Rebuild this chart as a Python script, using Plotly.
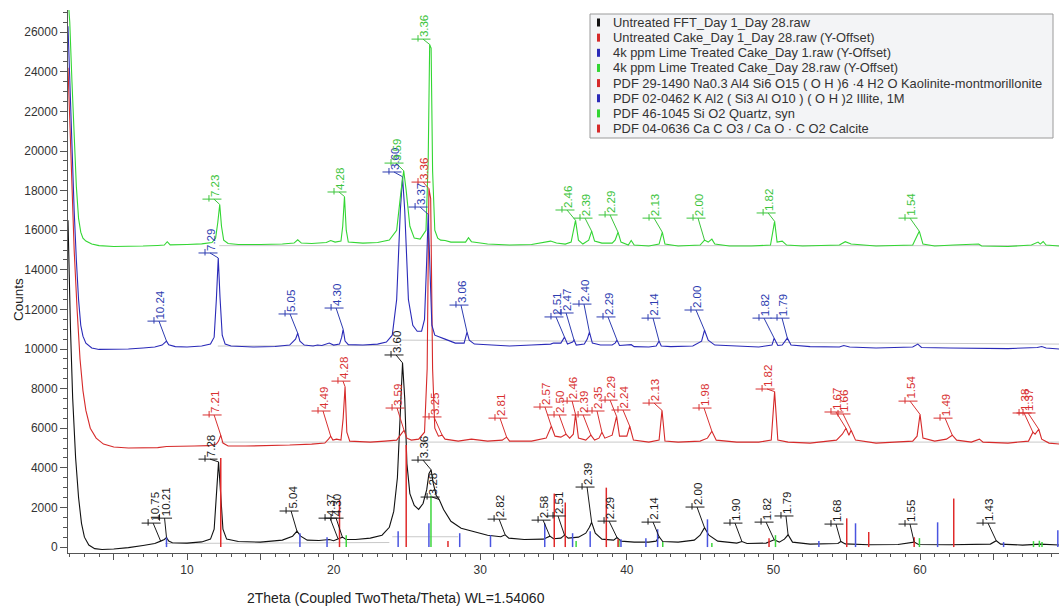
import numpy as np
import plotly.graph_objects as go

FONT = "Arial, Liberation Sans, sans-serif"

# ---------------- data (2Theta in degrees, counts) ----------------
BLACK_X = [1.88, 1.95, 2.05, 2.2, 2.4, 2.6, 2.8, 3.0, 3.3, 3.7, 4.2, 5.0, 6.0, 7.0, 7.8, 8.2, 8.45, 8.6, 8.75, 9.0,
           10.0, 11.0, 11.6, 11.85, 12.0, 12.15, 12.3, 12.45, 12.7, 13.5, 15.0, 16.5, 17.2, 17.5, 17.75, 18.2, 19.0,
           19.7, 20.0, 20.3, 20.6, 20.85, 21.5, 22.5, 23.3, 23.8, 24.1, 24.35, 24.55, 24.7, 24.85, 25.0, 25.2, 25.5,
           25.8, 26.1, 26.35, 26.5, 26.65, 26.8, 27.0, 27.2, 27.5, 28.0, 28.7, 29.4, 30.5, 31.4, 31.7, 31.95, 33.0,
           34.3, 34.75, 35.0, 35.5, 35.75, 36.0, 36.7, 37.2, 37.45, 37.6, 37.85, 38.3, 39.1, 39.33, 39.6, 40.5, 41.5,
           42.0, 42.2, 42.45, 43.5, 44.6, 45.0, 45.3, 45.6, 46.2, 47.5, 47.85, 48.2, 49.5, 50.05, 50.4, 50.75, 51.0,
           51.3, 52.5, 54.4, 54.6, 54.9, 56.5, 58.5, 59.6, 59.9, 62.0, 64.8, 65.2, 65.5, 67.0, 68.2, 69.5]
BLACK_Y = [16500, 14000, 11000, 7500, 4500, 2500, 1200, 500, 100, -80, -120, -100, -30, 80, 180, 300, 380, 480, 300, 220,
           200, 260, 400, 900, 2800, 4300, 2600, 900, 400, 280, 250, 350, 550, 800, 550, 350, 330,
           380, 320, 420, 500, 380, 380, 450, 600, 1000, 1800, 3500, 6500, 9300, 7500, 4200, 2700, 2100,
           1900, 2200, 2900, 3700, 3900, 3200, 2600, 2400, 1900, 1300, 950, 800, 600, 520, 620, 450, 380,
           400, 550, 420, 450, 600, 450, 500, 700, 1000, 1250, 700, 400, 350, 480, 300, 250, 250,
           300, 520, 280, 250, 350, 600, 980, 600, 300, 200, 280, 180, 200, 370, 250, 400, 620,
           250, 150, 180, 280, 160, 120, 130, 250, 130, 120, 150, 320, 150, 100, 150, 100]

RED_X = [1.88, 2.0, 2.15, 2.3, 2.5, 2.7, 2.9, 3.1, 3.4, 3.8, 4.3, 5.0, 6.0, 7.0, 8.0, 8.6, 9.5, 10.5, 11.5, 12.0, 12.15,
         12.3, 12.45, 12.8, 14.0, 15.5, 17.0, 18.5, 19.4, 19.65, 19.8, 19.95, 20.2, 20.5, 20.65, 20.78, 20.9, 21.1,
         22.5, 23.5, 24.3, 24.6, 24.8, 25.0, 25.3, 25.8, 26.2, 26.38, 26.5, 26.62, 26.75, 26.9, 27.15, 27.4, 27.6,
         28.5, 29.4, 30.5, 31.5, 31.8, 32.0, 33.5, 34.5, 34.85, 35.1, 35.5, 35.85, 36.1, 36.35, 36.5, 36.7, 37.2,
         37.55, 37.8, 38.1, 38.3, 38.5, 39.0, 39.3, 39.5, 40.0, 40.2, 40.45, 41.5, 42.2, 42.4, 42.6, 43.5, 45.0,
         45.5, 45.8, 46.1, 47.5, 49.0, 49.85, 50.08, 50.3, 51.0, 52.5, 54.3, 54.7, 54.95, 55.15, 55.3, 55.6, 57.0,
         59.5, 59.8, 60.0, 60.2, 61.0, 61.8, 62.2, 62.5, 63.5, 64.05, 64.3, 66.0, 67.4, 67.7, 67.85, 68.1, 68.3,
         68.8, 69.5]
RED_Y = [24200, 21500, 18000, 15000, 12000, 9500, 7900, 6900, 6000, 5500, 5200, 5050, 5000, 5000, 5020, 5080, 5080, 5100,
         5120, 5200, 5350, 5650, 5250, 5100, 5100, 5120, 5150, 5200, 5250, 5450, 5600, 5400, 5450, 5400, 6500, 8100,
         5800, 5350, 5300, 5350, 5400, 5700, 5900, 5500, 5400, 5450, 5800, 9000, 18100, 17600, 9000, 6000, 5600,
         5650, 5450, 5350, 5450, 5350, 5400, 5550, 5350, 5350, 5500, 6100, 5600, 5550, 5700, 5500, 5700, 6700,
         5500, 5400, 5650, 5400, 5500, 5800, 5500, 5650, 6600, 5600, 5600, 6100, 5400, 5300, 5400, 6900, 5350,
         5300, 5350, 5500, 5850, 5400, 5300, 5300, 5400, 7850, 5400, 5300, 5250, 5400, 5700, 6000, 5650, 5900,
         5400, 5250, 5350, 5600, 6700, 5500, 5350, 5450, 5650, 5400, 5300, 5450, 5300, 5250, 5350, 5800, 5700,
         5950, 5450, 5250, 5200]

BLUE_X = [1.88, 2.0, 2.15, 2.3, 2.45, 2.6, 2.75, 2.9, 3.1, 3.5, 4.0, 5.0, 6.0, 7.0, 7.8, 8.3, 8.5, 8.6, 8.75, 9.2,
          10.0, 11.0, 11.6, 11.85, 12.0, 12.13, 12.25, 12.4, 12.6, 13.0, 14.5, 16.0, 17.0, 17.4, 17.55, 17.7, 18.0,
          18.6, 18.9, 19.2, 19.7, 20.0, 20.4, 20.55, 20.65, 20.78, 21.0, 22.0, 23.0, 23.6, 24.0, 24.3, 24.55, 24.7,
          24.85, 25.1, 25.4, 25.7, 26.0, 26.2, 26.35, 26.45, 26.55, 26.7, 26.9, 27.3, 27.6, 28.3, 28.9, 29.1, 29.25,
          29.6, 30.5, 32.0, 33.5, 34.8, 35.0, 35.5, 35.75, 35.95, 36.3, 36.4, 36.55, 37.1, 37.3, 37.45, 37.65, 38.2,
          39.0, 39.2, 39.33, 39.5, 40.3, 40.5, 41.5, 42.0, 42.2, 42.35, 43.0, 44.5, 45.1, 45.3, 45.55, 46.0, 47.5,
          49.0, 49.9, 50.05, 50.3, 50.6, 50.95, 51.2, 52.5, 54.5, 54.8, 55.2, 57.0, 59.5, 59.85, 60.1, 62.0, 63.5,
          66.0, 68.0, 68.3, 68.6, 69.5]
BLUE_Y = [26300, 23500, 20000, 17000, 14500, 12500, 11200, 10650, 10300, 10050, 9980, 9980, 10000, 10050, 10100, 10200,
          10350, 10400, 10220, 10120, 10100, 10150, 10250, 10600, 12500, 14600, 12600, 10700, 10250, 10150, 10100,
          10130, 10200, 10500, 10800, 10400, 10200, 10150, 10200, 10180, 10300, 10200, 10250, 10600, 11000, 10400,
          10220, 10200, 10250, 10350, 10700, 12500, 17000, 18700, 17000, 12500, 11200, 10900, 10900, 11500, 14500,
          16800, 14500, 11200, 10700, 10600, 10500, 10300, 10300, 10850, 10450, 10250, 10200, 10150, 10200, 10250,
          10300, 10300, 10600, 10250, 10350, 10450, 10200, 10250, 10500, 10850, 10300, 10200, 10200, 10300, 10450,
          10180, 10220, 10120, 10100, 10150, 10400, 10150, 10120, 10150, 10400, 10950, 10450, 10200, 10150, 10100,
          10200, 10550, 10180, 10200, 10550, 10200, 10120, 10100, 10180, 10100, 10050, 10100, 10250, 10080, 10050,
          10050, 10020, 10080, 10130, 10050, 10000]

GREEN_X = [1.9, 2.0, 2.15, 2.3, 2.45, 2.6, 2.75, 2.9, 3.1, 3.5, 4.0, 5.0, 6.0, 7.0, 8.0, 8.45, 8.65, 8.85, 10.0, 11.0,
           11.7, 11.95, 12.1, 12.23, 12.35, 12.5, 12.8, 13.5, 15.0, 16.5, 17.3, 17.55, 17.8, 18.5, 19.5, 19.8, 20.1,
           20.5, 20.62, 20.74, 20.86, 21.0, 22.0, 23.0, 23.8, 24.3, 24.6, 24.78, 24.95, 25.2, 25.5, 25.9, 26.3, 26.45,
           26.55, 26.65, 26.75, 26.9, 27.1, 27.3, 27.6, 28.0, 29.0, 29.2, 29.4, 30.5, 32.0, 33.5, 34.8, 35.2, 35.8,
           36.2, 36.5, 36.7, 37.0, 37.4, 37.6, 37.8, 38.3, 39.0, 39.2, 39.4, 39.6, 40.1, 40.3, 40.5, 41.5, 42.2,
           42.42, 42.6, 43.5, 45.0, 45.3, 45.55, 45.8, 46.0, 47.0, 48.5, 49.8, 50.08, 50.25, 50.6, 50.9, 52.0, 54.5,
           54.9, 55.3, 57.0, 59.5, 59.95, 60.2, 61.0, 62.3, 64.0, 64.2, 66.0, 67.6, 68.05, 68.2, 68.4, 68.6, 69.5]
GREEN_Y = [27600, 26500, 23500, 20500, 18200, 16600, 15900, 15600, 15450, 15300, 15220, 15180, 15180, 15200, 15230,
           15250, 15420, 15260, 15280, 15310, 15380, 15600, 16400, 17300, 16200, 15500, 15330, 15280, 15280, 15300,
           15350, 15520, 15350, 15330, 15380, 15480, 15400, 15450, 16200, 17700, 16000, 15400, 15350, 15380, 15500,
           16000, 18000, 19000, 18000, 16200, 15600, 15550, 16000, 19500, 25350, 25200, 19000, 16000, 15600, 15500,
           15480, 15400, 15400, 15620, 15420, 15300, 15250, 15280, 15450, 15350, 15300, 15400, 16500, 15500, 15300,
           15500, 15950, 15450, 15350, 15350, 15500, 15900, 15400, 15250, 15480, 15250, 15200, 15300, 15900, 15300,
           15200, 15250, 15500, 15400, 15550, 15300, 15200, 15200, 15250, 16450, 15400, 15450, 15250, 15200, 15250,
           15420, 15300, 15200, 15250, 15950, 15300, 15200, 15250, 15300, 15200, 15180, 15250, 15400, 15300, 15430,
           15250, 15200]

# peak labels: (d-spacing text, label bar centre 2Theta, label bar height, peak 2Theta)
BLACK_LABELS = [("10.75", 7.55, 1210, 8.2), ("10.21", 8.33, 1460, 8.6), ("7.28", 11.43, 4440, 12.15),
                ("5.04", 16.96, 1820, 17.5), ("4.37", 19.62, 1460, 20.3), ("4.30", 20.03, 1460, 20.6),
                ("3.60", 24.12, 9700, 24.7), ("3.36", 25.96, 4390, 26.65), ("3.28", 26.58, 2525, 27.2),
                ("2.82", 31.15, 1410, 31.7), ("2.58", 34.15, 1360, 34.75), ("2.51", 35.17, 1570, 35.75),
                ("2.39", 37.15, 3030, 37.6), ("2.29", 38.65, 1310, 39.33), ("2.14", 41.65, 1260, 42.2),
                ("2.00", 44.65, 2020, 45.3), ("1.90", 47.24, 1210, 47.85), ("1.82", 49.36, 1260, 50.05),
                ("1.79", 50.72, 1570, 51.0), ("1.68", 54.13, 1160, 54.6), ("1.55", 59.18, 1160, 59.6),
                ("1.43", 64.5, 1210, 65.2)]
RED_LABELS = [("7.21", 11.71, 6670, 12.3), ("4.49", 19.14, 6870, 19.8), ("4.28", 20.5, 8380, 20.78),
              ("3.59", 24.19, 7020, 24.8), ("3.36", 25.96, 18430, 26.5), ("3.25", 26.71, 6570, 27.4),
              ("2.81", 31.21, 6510, 31.8), ("2.57", 34.28, 7070, 34.85), ("2.50", 35.24, 6670, 35.85),
              ("2.46", 36.13, 7370, 36.5), ("2.39", 36.88, 6670, 37.55), ("2.35", 37.83, 6870, 38.3),
              ("2.29", 38.72, 7420, 39.3), ("2.24", 39.6, 6920, 40.2), ("2.13", 41.72, 7270, 42.4),
              ("1.98", 45.13, 7020, 45.8), ("1.82", 49.43, 7980, 50.08), ("1.67", 54.13, 6820, 54.95),
              ("1.66", 54.61, 6720, 55.3), ("1.54", 59.18, 7370, 60.0), ("1.49", 61.57, 6510, 62.2),
              ("1.38", 66.96, 6770, 67.7), ("1.37", 67.23, 6770, 68.1)]
BLUE_LABELS = [("10.24", 7.95, 11410, 8.6), ("7.29", 11.43, 14850, 12.13), ("5.05", 16.89, 11770, 17.55),
               ("4.30", 20.03, 12070, 20.65), ("3.60", 23.98, 18940, 24.7), ("3.37", 25.76, 17170, 26.45),
               ("3.06", 28.55, 12220, 29.1), ("2.51", 35.03, 11620, 35.75), ("2.47", 35.72, 11820, 36.4),
               ("2.40", 36.94, 12270, 37.45), ("2.29", 38.58, 11620, 39.33), ("2.14", 41.65, 11560, 42.2),
               ("2.00", 44.58, 11970, 45.3), ("1.82", 49.22, 11560, 50.05), ("1.79", 50.45, 11560, 50.95)]
GREEN_LABELS = [("7.23", 11.7, 17570, 12.23), ("4.28", 20.23, 17930, 20.74), ("3.59", 24.12, 19390, 24.78),
                ("3.36", 25.96, 25650, 26.6), ("2.46", 35.78, 17020, 36.5), ("2.39", 37.01, 16610, 37.6),
                ("2.29", 38.72, 16770, 39.4), ("2.13", 41.72, 16610, 42.42), ("2.00", 44.72, 16610, 45.3),
                ("1.82", 49.5, 16870, 50.08), ("1.54", 59.18, 16610, 59.95)]

# reference patterns (stick positions and heights)
KAOL_X = [12.3, 20.4, 24.95, 35.05, 35.8, 38.6, 55.0, 62.3]
KAOL_H = [4500, 2400, 5150, 2700, 2250, 3000, 1450, 2450]
ILLITE_X = [8.6, 17.7, 19.55, 24.4, 26.5, 28.6, 30.7, 34.4, 36.3, 37.5, 39.6, 41.3, 42.1, 45.5, 53.1, 55.6, 61.2,
            65.7, 69.4]
ILLITE_H = [500, 700, 500, 800, 1200, 700, 600, 1200, 700, 800, 400, 450, 900, 1400, 300, 1200, 1250, 250, 850]
QUARTZ_X = [20.86, 26.64, 36.54, 39.46, 42.45, 45.8, 50.14, 59.96, 67.74, 68.14, 68.32]
QUARTZ_H = [600, 2600, 300, 350, 250, 200, 600, 450, 300, 320, 250]
CALCITE_X = [27.8, 39.4, 49.7, 56.5, 59.6]
CALCITE_H = [300, 400, 450, 760, 500]

LEGEND_ITEMS = [("Untreated FFT_Day 1_Day 28.raw", "#111111"),
                ("Untreated Cake_Day 1_Day 28.raw (Y-Offset)", "#d62a2a"),
                ("4k ppm Lime Treated Cake_Day 1.raw (Y-Offset)", "#2a2ab8"),
                ("4k ppm Lime Treated Cake_Day 28.raw (Y-Offset)", "#33d633"),
                ("PDF 29-1490 Na0.3 Al4 Si6 O15 ( O H )6 ·4 H2 O Kaolinite-montmorillonite", "#d62a2a"),
                ("PDF 02-0462 K Al2 ( Si3 Al O10 ) ( O H )2 Illite, 1M", "#2a2ab8"),
                ("PDF 46-1045 Si O2 Quartz, syn", "#33d633"),
                ("PDF 04-0636 Ca C O3 / Ca O · C O2 Calcite", "#d62a2a")]

X_TICKS = [5, 10, 15, 20, 25, 30, 35, 40, 45, 50, 55, 60, 65]
X_TICKTEXT = ["", "10", "", "20", "", "30", "", "40", "", "50", "", "60", ""]
Y_TICKS = list(range(0, 26001, 2000))

# ---------------- layout geometry ----------------
W, H = 1059, 609
ML, MR, MT, MB = 68, 0, 10, 56
XR = [1.88, 69.48]
YR = [-300, 27120]
PX_X = (XR[1] - XR[0]) / (W - ML - MR)   # degrees per pixel
PX_Y = (YR[1] - YR[0]) / (H - MT - MB)   # counts per pixel

fig = go.Figure()

# background fit lines
BG = [([8.5, 23.8], [180, 230]), ([24.0, 28.5], [520, 520]),
      ([12.3, 69.5], [5300, 5300]), ([12.1, 24.4], [10150, 10180]), ([24.6, 69.5], [10450, 10250]),
      ([12.2, 69.5], [15220, 15220])]
bx, by = [], []
for xs, ys in BG:
    bx += xs + [None]
    by += ys + [None]
fig.add_trace(go.Scatter(x=bx, y=by, mode="lines", line=dict(color="#c9c9c9", width=1),
                         hoverinfo="skip", showlegend=False))

SERIES = [("Untreated FFT_Day 1_Day 28.raw", BLACK_X, BLACK_Y, "#111111", BLACK_LABELS, "#1a1a1a"),
          ("Untreated Cake_Day 1_Day 28.raw (Y-Offset)", RED_X, RED_Y, "#d62a2a", RED_LABELS, "#d83030"),
          ("4k ppm Lime Treated Cake_Day 1.raw (Y-Offset)", BLUE_X, BLUE_Y, "#2a2ab8", BLUE_LABELS, "#2d3cb0"),
          ("4k ppm Lime Treated Cake_Day 28.raw (Y-Offset)", GREEN_X, GREEN_Y, "#33d633", GREEN_LABELS, "#3cc43c")]

for name, xs, ys, col, _, _ in SERIES:
    fig.add_trace(go.Scatter(x=xs, y=ys, mode="lines", name=name, line=dict(color=col, width=1.1),
                             showlegend=False))

# reference sticks
for sx, sh, col in [(KAOL_X, KAOL_H, "#e02a2a"), (ILLITE_X, ILLITE_H, "#4a55e0"),
                    (QUARTZ_X, QUARTZ_H, "#3ed63e"), (CALCITE_X, CALCITE_H, "#e02a2a")]:
    lx, ly = [], []
    for x0, h0 in zip(sx, sh):
        lx += [x0, x0, None]
        ly += [0, h0, None]
    fig.add_trace(go.Scatter(x=lx, y=ly, mode="lines", line=dict(color=col, width=1.5),
                             hoverinfo="skip", showlegend=False))

# peak labels
BAR_HW = 9.5 * PX_X
TICK_DX = -3 * PX_X
LEAD_DX = 2 * PX_X
annotations = []
for name, xs, ys, col, labels, tcol in SERIES:
    ax_ = np.array(xs)
    ay_ = np.array(ys)
    lx, ly = [], []
    for txt, bxc, byc, pkx in labels:
        sel = (ax_ >= pkx - 0.15) & (ax_ <= pkx + 0.15)
        pky = ay_[sel].max() if sel.any() else float(np.interp(pkx, ax_, ay_))
        lx += [bxc - BAR_HW, bxc + BAR_HW, None, bxc + TICK_DX, bxc + TICK_DX, None, bxc + LEAD_DX, pkx, None]
        ly += [byc, byc, None, byc - 2.5 * PX_Y, byc + 4 * PX_Y, None, byc, pky, None]
        annotations.append(dict(x=bxc + 3 * PX_X, y=byc, xref="x", yref="y", text=txt, textangle=-90,
                                showarrow=False, xanchor="center", yanchor="bottom", yshift=1, borderpad=0,
                                font=dict(family=FONT, size=11.5, color=tcol)))
    fig.add_trace(go.Scatter(x=lx, y=ly, mode="lines", line=dict(color=tcol, width=1),
                             hoverinfo="skip", showlegend=False))

# legend box (drawn)
PW = W - ML - MR
PH = H - MT - MB
def px2paper(px, py):
    return (px - ML) / PW, (H - MB - py) / PH

shapes = []
x0, y0 = px2paper(590, 138)
x1, y1 = px2paper(1053, 14)
shapes.append(dict(type="rect", xref="paper", yref="paper", x0=x0, y0=y0, x1=x1, y1=y1,
                   line=dict(color="#9a9a9a", width=1), fillcolor="#f3f4f6", layer="above"))
for i, (txt, col) in enumerate(LEGEND_ITEMS):
    rowy = 22.5 + 15.15 * i
    mx0, my0 = px2paper(597, rowy + 4)
    mx1, my1 = px2paper(600, rowy - 4)
    shapes.append(dict(type="rect", xref="paper", yref="paper", x0=mx0, y0=my0, x1=mx1, y1=my1,
                       line=dict(width=0), fillcolor=col, layer="above"))
    tx, ty = px2paper(611, rowy)
    annotations.append(dict(x=tx, y=ty, xref="paper", yref="paper", text=txt, showarrow=False,
                            xanchor="left", yanchor="middle", font=dict(family=FONT, size=12.9, color="#333333")))

# axis titles
cx, cy = px2paper(396, 598)
annotations.append(dict(x=cx, y=cy, xref="paper", yref="paper", text="2Theta (Coupled TwoTheta/Theta) WL=1.54060",
                        showarrow=False, xanchor="center", yanchor="middle",
                        font=dict(family=FONT, size=14, color="#222222")))
tx, ty = px2paper(18, 300)
annotations.append(dict(x=tx, y=ty, xref="paper", yref="paper", text="Counts", textangle=-90,
                        showarrow=False, xanchor="center", yanchor="middle",
                        font=dict(family=FONT, size=13.5, color="#222222")))

fig.update_layout(
    width=W, height=H, margin=dict(l=ML, r=MR, t=MT, b=MB),
    paper_bgcolor="white", plot_bgcolor="white", showlegend=False,
    annotations=annotations, shapes=shapes,
    xaxis=dict(range=XR, tickmode="array", tickvals=X_TICKS, ticktext=X_TICKTEXT, ticks="outside",
               ticklen=6, tickwidth=1, tickcolor="#555", showline=True, linecolor="#555", linewidth=1,
               showgrid=False, zeroline=False, tickfont=dict(family=FONT, size=12, color="#333"),
               minor=dict(tickmode="linear", tick0=0, dtick=1, ticks="outside", ticklen=3, tickcolor="#555",
                          showgrid=False)),
    yaxis=dict(range=YR, tickmode="array", tickvals=Y_TICKS, tickformat="d", ticks="outside", ticklen=7,
               tickwidth=1, tickcolor="#555", showline=True, linecolor="#555", linewidth=1, showgrid=False,
               zeroline=False, tickfont=dict(family=FONT, size=12, color="#333"),
               minor=dict(tickmode="linear", tick0=0, dtick=500, ticks="outside", ticklen=4, tickcolor="#555",
                          showgrid=False)),
)

fig.write_html("out.html")
